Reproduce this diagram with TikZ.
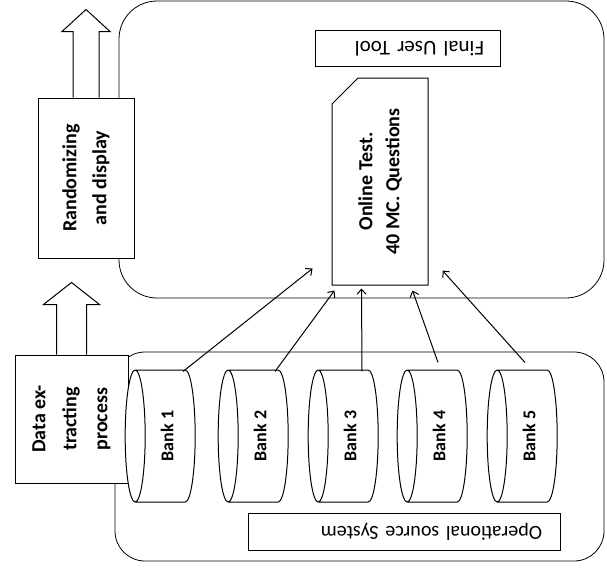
\documentclass[tikz,border=0pt]{standalone}
\usepackage{fontspec}
\setmainfont{Carlito}
\usetikzlibrary{calc, arrows.meta, shapes.geometric, shapes.misc}

\tikzset{
  box/.style = {draw, fill=white, line width=1pt, inner sep=2pt, align=center},
  bank/.style = {cylinder, draw, fill=white, line width=1pt, rotate=90,
    shape border rotate=90, shape aspect=0.35,
    minimum width=132pt, minimum height=70pt,
    font=\fontsize{18}{22}\selectfont\bfseries},
  blockarrow/.style = {draw, fill=white, line width=1pt, line join=miter},
}

\begin{document}
\begin{tikzpicture}[x=1pt, y=-1pt, line width=0.8pt]
  \useasboundingbox (0,0) rectangle (607,571);

  % the two containers
  \begin{scope}
    \draw[rounded corners=38pt] (119,1) rectangle (604,298);
    \draw[rounded corners=30pt] (115,352) rectangle (604,561);
  \end{scope}

  \node[box, rotate=90, minimum width=160pt, minimum height=96pt,
    font=\fontsize{20}{30}\selectfont\bfseries] (rand) at (86,178) {Randomizing\\and display};
  \node[box, rotate=90, minimum width=128pt, minimum height=113pt,
    font=\fontsize{20}{31}\selectfont\bfseries] (extract) at (71.5,419) {Data ex-\\tracting\\process};

  \node[box, rotate=180, align=left, inner xsep=16pt, text width=153pt,
    minimum height=36pt, font=\fontsize{21}{24}\selectfont] (final) at (407.5,48.5) {Final User Tool};
  \node[box, chamfered rectangle, chamfered rectangle corners=north east,
    chamfered rectangle xsep=13pt, chamfered rectangle ysep=13pt,
    rotate=90, minimum width=207pt, minimum height=96pt,
    font=\fontsize{20}{27}\selectfont\bfseries] (online) at (380,181.5) {Online Test.\\40 MC. Questions};
  \node[box, rotate=180, align=left, inner xsep=18pt, text width=276pt,
    minimum height=37pt, font=\fontsize{20}{24}\selectfont] (oper) at (404,531.5) {Operational source System};

  \foreach \i/\x in {1/167, 2/260, 3/350, 4/439, 5/529}
    \node[bank] (b\i) at (\x,436) {Bank \i};

  % block arrows
  \path[blockarrow] ($(rand.east)+(-13,0)$) -- ++(0,-66) -- ++(-11,0) -- ++(24,-22)
    -- ++(24,22) -- ++(-11,0) -- ++(0,66);
  \path[blockarrow] ($(extract.east)+(-15,0)$) -- ++(0,-50) -- ++(-13,0) -- ++(28,-22)
    -- ++(28,22) -- ++(-13,0) -- ++(0,50);

  \begin{scope}[-{Straight Barb[length=5pt, width=9pt]}, line width=1pt]
    \foreach \i/\sx/\sy/\tx/\ty in {1/16/2/-19/-17, 2/15/2/3/5, 3/12/2/30/3,
        4/-1/-7/81/5, 5/-4/-7/111/-15}
      \draw ($(b\i.east)+(\sx,\sy)$) -- ($(online.north west)+(\tx,\ty)$);
  \end{scope}
\end{tikzpicture}
\end{document}
